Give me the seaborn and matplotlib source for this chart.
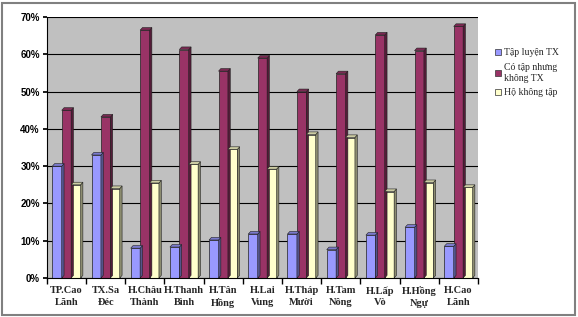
import matplotlib
matplotlib.use("Agg")
import matplotlib.pyplot as plt
import matplotlib.colors as mcolors
import seaborn as sns
import pandas as pd
from matplotlib.patches import Rectangle, Polygon

categories = ["TP.Cao\nLãnh", "TX.Sa\nĐéc", "H.Châu\nThành", "H.Thanh\nBình", "H.Tân\nHồng",
              "H.Lai\nVung", "H.Tháp\nMười", "H.Tam\nNông", "H.Lấp\nVò", "H.Hồng\nNgự", "H.Cao\nLãnh"]
series_names = ["Tập luyện TX", "Có tập nhưng\nkhông TX", "Hộ không tập"]
tap_luyen_tx = [30.0, 33.0, 8.0, 8.3, 10.2, 11.8, 11.8, 7.6, 11.5, 13.6, 8.5]
co_tap_khong_tx = [45.0, 43.2, 66.5, 61.3, 55.5, 59.0, 50.0, 54.8, 65.2, 61.0, 67.5]
ho_khong_tap = [25.0, 24.0, 25.5, 30.5, 34.5, 29.2, 38.5, 37.7, 23.2, 25.6, 24.3]
colors = ["#9999FF", "#993366", "#FFFFCC"]
yticks = [0, 10, 20, 30, 40, 50, 60, 70]

rows = []
for s, vals in zip(series_names, [tap_luyen_tx, co_tap_khong_tx, ho_khong_tap]):
    for c, v in zip(categories, vals):
        rows.append({"cat": c, "series": s, "val": v})
df = pd.DataFrame(rows)

sns.set_theme(style="white")
plt.rcParams['font.family'] = ['Liberation Serif', 'DejaVu Serif']

fig = plt.figure(figsize=(5.78, 3.17), dpi=100)
ax = fig.add_axes([0.081, 0.123, 0.746, 0.823])
ax.set_facecolor("#C0C0C0")

sns.barplot(data=df, x="cat", y="val", hue="series", palette=colors, ax=ax,
            width=0.72, edgecolor="#202020", linewidth=0.5, saturation=1, legend=True)

# pseudo-3D side and top faces derived from the drawn bars
dx, dy = 0.06, 0.7
for p in list(ax.patches):
    x, w, h = p.get_x(), p.get_width(), p.get_height()
    if h <= 0:
        continue
    fc = mcolors.to_rgb(p.get_facecolor())
    dark = tuple(c * 0.55 for c in fc)
    mid = tuple(c * 0.8 for c in fc)
    side = Polygon([(x + w, 0), (x + w + dx, dy), (x + w + dx, h + dy), (x + w, h)],
                   closed=True, facecolor=dark, edgecolor="#202020", linewidth=0.4, zorder=p.get_zorder())
    top = Polygon([(x, h), (x + dx, h + dy), (x + w + dx, h + dy), (x + w, h)],
                  closed=True, facecolor=mid, edgecolor="#202020", linewidth=0.4, zorder=p.get_zorder())
    ax.add_patch(side)
    ax.add_patch(top)

ax.set_ylim(0, 70)
ax.set_yticks(yticks)
ax.set_yticklabels([f"{t}%" for t in yticks], fontsize=7, fontweight="bold", family=['Liberation Sans', 'DejaVu Sans'])
ax.yaxis.grid(True, color="black", linewidth=0.8)
ax.set_axisbelow(True)
ax.set_xlim(-0.5, len(categories) - 0.5)
ax.set_xticks(range(len(categories)))
ax.set_xticklabels(categories, fontsize=7.5, fontweight="bold", linespacing=1.35)
ax.tick_params(axis="x", length=0, pad=6)
ax.tick_params(axis="y", length=3, pad=2, left=True, colors="black")
ax.set_xticks([i + 0.5 for i in range(-1, len(categories))], minor=True)
ax.tick_params(axis="x", which="minor", length=4, bottom=True, color="black")
ax.set_xlabel("")
ax.set_ylabel("")
for sp in ["top", "right"]:
    ax.spines[sp].set_visible(False)
for sp in ["left", "bottom"]:
    ax.spines[sp].set_color("black")
    ax.spines[sp].set_linewidth(0.8)

leg = ax.legend(loc="upper left", bbox_to_anchor=(1.03, 0.895), frameon=False,
                fontsize=7, handlelength=0.6, handleheight=0.6, handletextpad=0.3,
                labelspacing=0.6, borderaxespad=0)
for h in leg.legend_handles:
    h.set_edgecolor("#333333")

fig.patches.append(Rectangle((0.004, 0.006), 0.99, 0.985, transform=fig.transFigure,
                             fill=False, edgecolor="#808080", linewidth=1.5))
fig.savefig("out.png", dpi=100)
